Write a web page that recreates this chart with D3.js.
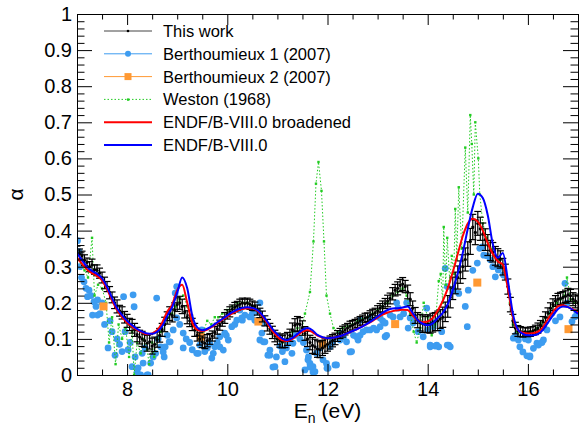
<html>
<head>
<meta charset="utf-8">
<style>
  body { margin: 0; background: #fff; }
  text { font-family: "Liberation Sans", Arial, Helvetica, sans-serif; fill: #000; }
</style>
</head>
<body>
<script src="https://d3js.org/d3.v7.min.js"></script>
<script>
// alpha ratio vs neutron energy

// This work: values on a 0.05 eV grid from 7 to 17 eV, with errors
var workStart = 7, workStep = 0.05
var workAlpha = [
  .345,.335,.330,.318,.312,.300,.305,.292,.290,.282,
  .270,.255,.245,.228,.215,.200,.190,.178,.172,.160,
  .150,.140,.135,.125,.112,.105,.100,.095,.088,.092,
  .080,.085,.098,.110,.125,.140,.158,.170,.165,.180,
  .195,.200,.190,.175,.160,.150,.140,.125,.110,.100,
  .092,.088,.095,.100,.108,.118,.128,.138,.148,.158,
  .168,.175,.182,.188,.192,.196,.200,.198,.200,.196,
  .192,.190,.180,.172,.162,.150,.138,.128,.118,.108,
  .100,.095,.092,.095,.100,.110,.125,.138,.142,.140,
  .130,.115,.100,.090,.082,.078,.072,.070,.075,.080,
  .085,.090,.095,.100,.108,.115,.120,.125,.130,.135,
  .138,.142,.145,.150,.152,.158,.160,.165,.168,.172,
  .178,.185,.190,.198,.205,.212,.225,.235,.240,.248,
  .252,.245,.230,.210,.185,.165,.152,.145,.142,.140,
  .142,.140,.145,.148,.150,.155,.160,.175,.190,.215,
  .240,.255,.270,.285,.300,.320,.335,.370,.410,.395,
  .420,.405,.390,.375,.360,.345,.340,.330,.325,.320,
  .300,.285,.245,.195,.150,.130,.122,.120,.118,.120,
  .118,.120,.122,.125,.130,.138,.148,.160,.172,.185,
  .195,.205,.210,.212,.215,.218,.222,.220,.210,.205,
  .200
]
var workErr = [
  .012,.014,.013,.015,.012,.014,.016,.013,.015,.014,
  .015,.016,.014,.017,.015,.016,.018,.015,.017,.016,
  .018,.017,.019,.018,.020,.019,.021,.018,.022,.020,
  .022,.020,.021,.019,.018,.020,.017,.019,.018,.020,
  .019,.018,.020,.017,.018,.016,.017,.018,.016,.017,
  .016,.015,.017,.015,.014,.016,.015,.014,.013,.015,
  .013,.014,.012,.013,.012,.014,.013,.012,.013,.014,
  .013,.012,.014,.013,.015,.014,.016,.015,.017,.016,
  .016,.018,.017,.019,.018,.017,.019,.018,.020,.019,
  .020,.019,.021,.020,.022,.021,.023,.022,.021,.020,
  .019,.018,.017,.016,.015,.014,.015,.014,.013,.014,
  .013,.012,.013,.012,.014,.013,.012,.013,.014,.013,
  .014,.013,.015,.014,.016,.015,.017,.016,.018,.017,
  .018,.017,.019,.018,.020,.022,.021,.023,.024,.022,
  .025,.024,.026,.025,.027,.026,.028,.027,.030,.029,
  .031,.030,.032,.031,.033,.032,.034,.036,.035,.034,
  .033,.032,.031,.030,.029,.028,.027,.026,.025,.024,
  .023,.022,.021,.020,.018,.016,.015,.014,.013,.012,
  .012,.013,.012,.013,.014,.013,.014,.015,.014,.015,
  .016,.015,.016,.017,.016,.017,.018,.017,.018,.019,
  .020
]

// ENDF/B-VIII.0 curves on a 0.1 eV grid from 7 to 17 eV
var endfStart = 7, endfStep = 0.1
var endfAlpha = [
  .338,.318,.300,.288,.280,.268,.244,.213,.185,.166,
  .150,.138,.128,.120,.115,.114,.120,.135,.163,.188,
  .228,.270,.240,.165,.132,.124,.128,.136,.146,.155,
  .165,.174,.181,.186,.188,.186,.180,.166,.148,.128,
  .113,.101,.097,.103,.114,.125,.130,.124,.111,.105,
  .102,.103,.106,.110,.116,.122,.128,.135,.143,.152,
  .162,.172,.180,.184,.185,.187,.190,.172,.152,.142,
  .138,.143,.158,.172,.196,.235,.282,.338,.405,.465,
  .502,.490,.442,.362,.325,.338,.262,.170,.126,.114,
  .110,.110,.113,.125,.145,.165,.183,.190,.188,.180,
  .170
]
var broadAlpha = [
  .325,.308,.292,.282,.274,.262,.238,.207,.180,.160,
  .145,.134,.125,.118,.113,.115,.124,.145,.175,.195,
  .235,.250,.200,.145,.125,.122,.126,.134,.144,.153,
  .162,.171,.178,.183,.185,.184,.178,.163,.143,.122,
  .106,.096,.094,.100,.110,.120,.125,.119,.109,.104,
  .102,.103,.106,.110,.116,.122,.128,.135,.142,.150,
  .159,.167,.173,.177,.179,.181,.180,.165,.152,.146,
  .148,.158,.178,.205,.240,.285,.335,.385,.420,.433,
  .425,.400,.365,.335,.315,.305,.240,.160,.125,.117,
  .115,.116,.120,.132,.155,.175,.190,.193,.188,.182,
  .175
]

// Berthoumieux 1 (2007)
var bert1E = [
  7.01,7.04,7.06,7.09,7.14,7.18,7.21,7.24,7.28,7.31,7.34,7.38,7.41,7.41,7.46,7.50,7.55,7.62,7.66,7.70,
  7.76,7.80,7.85,7.90,7.93,7.96,8.02,8.06,8.10,8.12,8.14,8.16,8.20,8.22,8.27,8.30,8.32,8.36,8.40,8.42,
  8.47,8.52,8.57,8.59,8.62,8.67,8.72,8.74,8.76,8.80,8.84,8.86,8.92,8.96,8.99,8.99,9.05,9.12,9.12,9.18,
  9.25,9.30,9.39,9.42,9.45,9.49,9.55,9.60,9.65,9.69,9.72,9.75,9.80,9.85,9.85,9.92,9.95,9.98,10.02,10.09,
  10.15,10.19,10.25,10.29,10.30,10.35,10.45,10.50,10.55,10.62,10.65,10.65,10.69,10.72,10.72,10.75,10.81,10.85,10.85,10.91,
  10.95,10.98,11.05,11.10,11.15,11.18,11.22,11.29,11.31,11.35,11.45,11.52,11.55,11.58,11.61,11.62,11.65,11.65,11.71,11.71,
  11.75,11.78,11.85,11.91,11.98,11.99,12.01,12.05,12.10,12.15,12.18,12.25,12.25,12.32,12.38,12.45,12.48,12.52,12.58,12.61,
  12.65,12.65,12.71,12.78,12.85,12.85,12.92,12.98,13.05,13.05,13.10,13.15,13.15,13.18,13.25,13.31,13.38,13.41,13.45,13.52,
  13.58,13.61,13.65,13.68,13.71,13.81,13.91,13.98,14.00,14.05,14.05,14.11,14.11,14.15,14.18,14.22,14.28,14.35,14.39,14.39,
  14.42,14.45,14.52,14.62,14.75,14.79,14.81,14.90,14.99,15.04,15.09,15.12,15.18,15.25,15.30,15.35,15.41,15.45,15.51,15.71,
  15.76,15.81,15.84,15.90,15.95,15.98,16.01,16.04,16.04,16.11,16.18,16.21,16.28,16.31,16.38,16.48,16.55,16.64,16.74,16.78,
  16.88,16.94,16.98
]
var bert1Alpha = [
  .372,.342,.300,.270,.258,.240,.217,.235,.220,.166,.203,.190,.208,.166,.170,.200,.140,.075,.150,.120,
  .055,.100,.085,.065,.217,.120,.070,.090,.023,.222,.189,.050,.009,.020,.000,.060,.033,.075,.000,.000,
  .033,.050,.060,.213,.100,.078,.064,.050,.078,.110,.092,.092,.125,.227,.245,.158,.140,.116,.075,.100,
  .090,.070,.060,.060,.083,.125,.065,.075,.088,.047,.060,.078,.090,.106,.078,.069,.116,.110,.097,.134,
  .140,.152,.180,.158,.152,.166,.161,.170,.152,.175,.200,.097,.116,.144,.092,.092,.055,.055,.069,.022,
  .023,.050,.080,.065,.037,.075,.090,.060,.088,.110,.100,.090,.014,.069,.042,.050,.022,.032,.008,.023,
  .009,.060,.075,.042,.032,.019,.019,.078,.090,.028,.028,.097,.116,.105,.092,.064,.065,.110,.106,.097,
  .110,.152,.120,.125,.125,.158,.130,.125,.134,.158,.150,.144,.106,.110,.166,.161,.200,.185,.161,.170,
  .200,.130,.158,.161,.144,.120,.106,.185,.125,.083,.078,.134,.144,.080,.083,.078,.120,.295,.245,.083,
  .083,.078,.235,.226,.190,.134,.235,.290,.310,.351,.355,.332,.330,.319,.300,.272,.291,.300,.277,.102,
  .110,.097,.078,.064,.100,.053,.097,.050,.053,.074,.088,.083,.090,.097,.125,.171,.150,.161,.254,.199,
  .148,.161,.171
]

// Berthoumieux 2 (2007)
var bert2E = [7.53, 9.47, 10.62, 11.90, 13.35, 14.99, 16.81]
var bert2Alpha = [.190, .106, .148, .085, .141, .256, .127]

// Weston (1968)
var westonE = [
  7.00,7.08,7.15,7.22,7.30,7.35,7.42,7.50,7.58,7.64,7.70,7.77,7.83,7.90,7.97,8.04,8.10,8.14,8.20,8.27,
  8.33,8.40,8.44,8.50,8.54,8.60,8.68,8.75,8.83,8.90,8.97,9.05,9.12,9.20,9.28,9.36,9.44,9.52,9.60,9.68,
  9.75,9.82,9.90,10.00,10.10,10.20,10.30,10.40,10.50,10.60,10.70,10.80,10.90,11.00,11.10,11.20,11.30,11.40,11.48,11.55,
  11.65,11.72,11.77,11.82,11.88,11.93,11.98,12.05,12.12,12.20,12.30,12.40,12.50,12.60,12.70,12.80,12.90,13.00,13.10,13.20,
  13.30,13.40,13.50,13.58,13.65,13.72,13.78,13.85,13.92,14.00,14.08,14.15,14.22,14.26,14.30,14.32,14.36,14.39,14.44,14.48,
  14.52,14.55,14.58,14.62,14.68,14.75,14.80,14.85,14.88,14.92,14.95,15.01,15.04,15.10,15.18,15.26,15.34,15.42,15.50,15.58,
  15.64,15.70,15.78,15.86,15.94,16.02,16.10,16.18,16.26,16.34,16.42,16.50,16.58,16.66,16.72,16.78,16.85,16.92,17.00
]
var westonAlpha = [
  .330,.310,.290,.270,.380,.220,.250,.240,.200,.090,.160,.030,.140,.100,.130,.050,.120,.000,.090,.060,
  .100,.070,.030,.090,.050,.100,.120,.140,.160,.170,.190,.210,.220,.190,.160,.130,.110,.120,.150,.140,
  .160,.160,.170,.180,.190,.200,.200,.200,.190,.180,.160,.140,.120,.100,.090,.100,.120,.130,.120,.170,
  .230,.370,.530,.590,.510,.370,.220,.170,.130,.120,.130,.135,.140,.150,.155,.160,.170,.180,.190,.200,
  .220,.230,.240,.220,.170,.120,.090,.130,.200,.160,.110,.140,.260,.280,.200,.410,.250,.380,.260,.330,
  .280,.460,.320,.520,.350,.630,.450,.720,.640,.500,.700,.600,.500,.420,.380,.350,.330,.320,.300,.260,
  .200,.140,.120,.120,.110,.120,.120,.130,.140,.160,.170,.190,.200,.210,.220,.270,.210,.200,.200
]

var xTicksMajor = [8, 10, 12, 14, 16]
var yTickLabels = ["0", "0.1", "0.2", "0.3", "0.4", "0.5", "0.6", "0.7", "0.8", "0.9", "1"]

var legendItems = [
  { label: "This work", kind: "work" },
  { label: "Berthoumieux 1 (2007)", kind: "bert1" },
  { label: "Berthoumieux 2 (2007)", kind: "bert2" },
  { label: "Weston (1968)", kind: "weston" },
  { label: "ENDF/B-VIII.0 broadened", kind: "broad" },
  { label: "ENDF/B-VIII.0", kind: "endf" }
]

var colors = { work: "#000", bert1: "#3d9cf0", bert2: "#ff9933", weston: "#22cc22", broad: "#ff0000", endf: "#0000ff" }

var width = 585, height = 425
// note: "top" is a reserved window property, so use plot* names
var plotL = 77, plotR = 578, plotT = 14, plotB = 375

var x = d3.scaleLinear().domain([7, 17]).range([plotL, plotR])
var y = d3.scaleLinear().domain([0, 1]).range([plotB, plotT])

var svg = d3.select("body").append("svg").attr("width", width).attr("height", height)

svg.append("clipPath").attr("id", "plotclip")
  .append("rect").attr("x", plotL).attr("y", plotT).attr("width", plotR - plotL).attr("height", plotB - plotT)

var plot = svg.append("g").attr("clip-path", "url(#plotclip)")

// Berthoumieux 1 points
plot.append("g").selectAll("circle")
  .data(bert1E.map(function (e, i) { return [e, bert1Alpha[i]] }))
  .enter().append("circle")
  .attr("cx", function (d) { return x(d[0]) })
  .attr("cy", function (d) { return y(d[1]) })
  .attr("r", 3.4)
  .attr("fill", colors.bert1)

// Weston dotted line + small markers
var westonData = westonE.map(function (e, i) { return [e, westonAlpha[i]] })
plot.append("path")
  .datum(westonData)
  .attr("fill", "none")
  .attr("stroke", colors.weston)
  .attr("stroke-width", 1)
  .attr("stroke-dasharray", "1.5,2")
  .attr("d", d3.line().x(function (d) { return x(d[0]) }).y(function (d) { return y(d[1]) }))
plot.append("g").selectAll("rect")
  .data(westonData)
  .enter().append("rect")
  .attr("x", function (d) { return x(d[0]) - 1.2 })
  .attr("y", function (d) { return y(d[1]) - 1.2 })
  .attr("width", 2.4).attr("height", 2.4)
  .attr("fill", colors.weston)

// Berthoumieux 2 squares
plot.append("g").selectAll("rect")
  .data(bert2E.map(function (e, i) { return [e, bert2Alpha[i]] }))
  .enter().append("rect")
  .attr("x", function (d) { return x(d[0]) - 4 })
  .attr("y", function (d) { return y(d[1]) - 4 })
  .attr("width", 8).attr("height", 8)
  .attr("fill", colors.bert2)

// This work with error bars
var workData = workAlpha.map(function (v, i) {
  return { e: workStart + i * workStep, v: v, err: workErr[i] }
})
var wg = plot.append("g").attr("stroke", "#000").attr("stroke-width", 1.2)
workData.forEach(function (d) {
  var px = x(d.e), y1 = y(d.v - d.err), y2 = y(d.v + d.err)
  wg.append("line").attr("x1", px).attr("x2", px).attr("y1", y1).attr("y2", y2)
  wg.append("line").attr("x1", px - 3.5).attr("x2", px + 3.5).attr("y1", y1).attr("y2", y1)
  wg.append("line").attr("x1", px - 3.5).attr("x2", px + 3.5).attr("y1", y2).attr("y2", y2)
})
plot.append("g").selectAll("circle")
  .data(workData)
  .enter().append("circle")
  .attr("cx", function (d) { return x(d.e) })
  .attr("cy", function (d) { return y(d.v) })
  .attr("r", 1.6)
  .attr("fill", "#000")

// ENDF curves
var curve = d3.line()
  .x(function (d) { return x(d[0]) })
  .y(function (d) { return y(d[1]) })
  .curve(d3.curveMonotoneX)
function endfPoints(arr) {
  return arr.map(function (v, i) { return [endfStart + i * endfStep, v] })
}
plot.append("path").datum(endfPoints(broadAlpha))
  .attr("fill", "none").attr("stroke", colors.broad).attr("stroke-width", 2).attr("d", curve)
plot.append("path").datum(endfPoints(endfAlpha))
  .attr("fill", "none").attr("stroke", colors.endf).attr("stroke-width", 2).attr("d", curve)

// axes: ticks inside on all four sides
var xMinor = d3.range(7.5, 17, 0.5).filter(function (v) { return v % 2 !== 0 })
var yMajor = d3.range(0, 11).map(function (i) { return i / 10 })
var yMinor = d3.range(0, 51).map(function (i) { return i / 50 }).filter(function (v, i) { return i % 5 !== 0 })

function cleanAxis(g) {
  g.select(".domain").remove()
  g.selectAll(".tick line").attr("stroke", "#000")
  g.selectAll("text").style("font-family", "'Liberation Sans', Arial, sans-serif").attr("fill", "#000")
}

svg.append("g").attr("transform", "translate(0," + plotB + ")")
  .call(d3.axisBottom(x).tickValues(xTicksMajor).tickSize(-11).tickPadding(7).tickFormat(d3.format("d")))
  .call(cleanAxis)
  .selectAll("text").style("font-size", "20px")
svg.append("g").attr("transform", "translate(0," + plotB + ")")
  .call(d3.axisBottom(x).tickValues(xMinor).tickSize(-5.5).tickFormat(""))
  .call(cleanAxis)
svg.append("g").attr("transform", "translate(0," + plotT + ")")
  .call(d3.axisTop(x).tickValues(xTicksMajor).tickSize(-11).tickFormat(""))
  .call(cleanAxis)
svg.append("g").attr("transform", "translate(0," + plotT + ")")
  .call(d3.axisTop(x).tickValues(xMinor).tickSize(-5.5).tickFormat(""))
  .call(cleanAxis)

svg.append("g").attr("transform", "translate(" + plotL + ",0)")
  .call(d3.axisLeft(y).tickValues(yMajor).tickSize(-15).tickPadding(5)
    .tickFormat(function (d, i) { return yTickLabels[i] }))
  .call(cleanAxis)
  .selectAll("text").style("font-size", "20px")
svg.append("g").attr("transform", "translate(" + plotL + ",0)")
  .call(d3.axisLeft(y).tickValues(yMinor).tickSize(-7.5).tickFormat(""))
  .call(cleanAxis)
svg.append("g").attr("transform", "translate(" + plotR + ",0)")
  .call(d3.axisRight(y).tickValues(yMajor).tickSize(-15).tickFormat(""))
  .call(cleanAxis)
svg.append("g").attr("transform", "translate(" + plotR + ",0)")
  .call(d3.axisRight(y).tickValues(yMinor).tickSize(-7.5).tickFormat(""))
  .call(cleanAxis)

// frame
svg.append("rect")
  .attr("x", plotL + 0.5).attr("y", plotT + 0.5)
  .attr("width", plotR - plotL).attr("height", plotB - plotT)
  .attr("fill", "none").attr("stroke", "#000").attr("stroke-width", 1)

// axis titles
var xt = svg.append("text")
  .attr("x", (plotL + plotR) / 2).attr("y", 418)
  .attr("text-anchor", "middle")
  .style("font-size", "21px")
xt.append("tspan").text("E")
xt.append("tspan").attr("dy", 5).style("font-size", "14px").text("n")
xt.append("tspan").attr("dy", -5).text(" (eV)")

svg.append("text")
  .attr("transform", "translate(23," + ((plotT + plotB) / 2) + ") rotate(-90)")
  .attr("text-anchor", "middle")
  .style("font-size", "21px")
  .text("α")

// legend
var lg = svg.append("g")
legendItems.forEach(function (item, i) {
  var cy = 31 + i * 22.8
  var row = lg.append("g").attr("transform", "translate(0," + cy + ")")
  var line = row.append("line").attr("x1", 104).attr("x2", 152).attr("y1", 0).attr("y2", 0)
    .attr("stroke", colors[item.kind])
  if (item.kind === "work") {
    line.attr("stroke", "#444")
    row.append("circle").attr("cx", 128).attr("cy", 0).attr("r", 1.3).attr("fill", "#000")
  } else if (item.kind === "bert1") {
    row.append("circle").attr("cx", 128).attr("cy", 0).attr("r", 3).attr("fill", colors.bert1)
  } else if (item.kind === "bert2") {
    row.append("rect").attr("x", 124.5).attr("y", -3.5).attr("width", 7).attr("height", 7).attr("fill", colors.bert2)
  } else if (item.kind === "weston") {
    line.attr("stroke-dasharray", "1.5,2")
    row.append("rect").attr("x", 127).attr("y", -1).attr("width", 2.4).attr("height", 2.4).attr("fill", colors.weston)
  } else {
    line.attr("stroke-width", 2)
  }
  row.append("text").attr("x", 163).attr("y", 6).style("font-size", "16.5px").text(item.label)
})
</script>
</body>
</html>
